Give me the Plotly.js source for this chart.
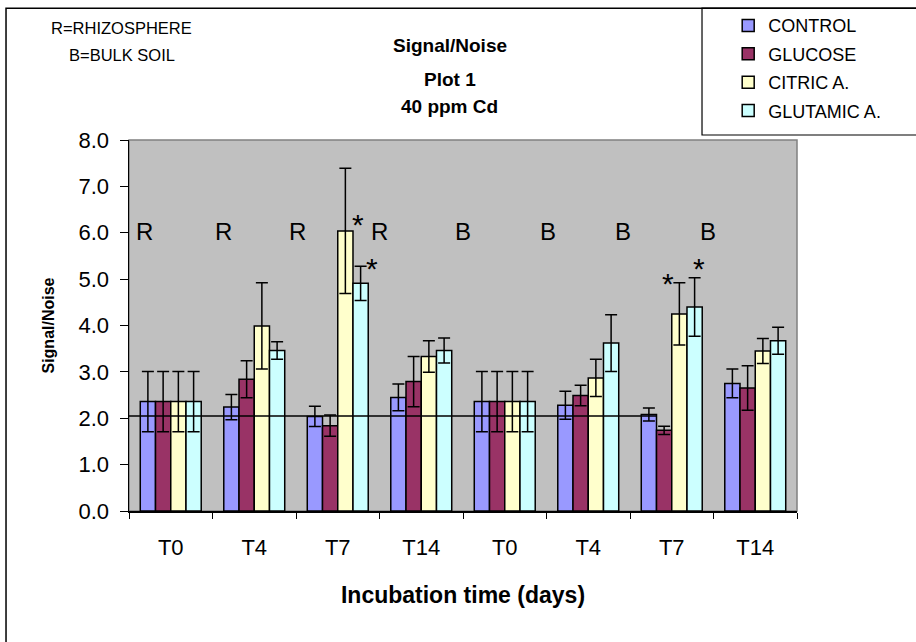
<!DOCTYPE html>
<html>
<head>
<meta charset="utf-8">
<script src="https://cdn.plot.ly/plotly-3.0.1.min.js"></script>
<style>html,body{margin:0;padding:0;background:#fff;}#chart{width:916px;height:642px;}</style>
</head>
<body>
<div id="chart"></div>
<script>
// Categories (R = rhizosphere, B = bulk soil)
const categories = ['R T0','R T4','R T7','R T14','B T0','B T4','B T7','B T14'];
const tickLabels = ['T0','T4','T7','T14','T0','T4','T7','T14'];
const soilLabels = ['R','R','R','R','B','B','B','B'];

// Series values and error bars
const control     = [2.36, 2.24, 2.04, 2.45, 2.36, 2.28, 2.08, 2.75];
const controlErr  = [0.65, 0.27, 0.22, 0.29, 0.65, 0.30, 0.14, 0.31];
const glucose     = [2.36, 2.84, 1.84, 2.79, 2.36, 2.49, 1.74, 2.65];
const glucoseErr  = [0.65, 0.40, 0.23, 0.54, 0.65, 0.22, 0.09, 0.48];
const citric      = [2.36, 3.99, 6.04, 3.33, 2.36, 2.87, 4.25, 3.45];
const citricErr   = [0.65, 0.93, 1.35, 0.34, 0.65, 0.40, 0.67, 0.27];
const glutamic    = [2.36, 3.46, 4.91, 3.46, 2.36, 3.62, 4.40, 3.67];
const glutamicErr = [0.65, 0.19, 0.37, 0.27, 0.65, 0.61, 0.63, 0.29];

const seriesNames = ['CONTROL','GLUCOSE','CITRIC A.','GLUTAMIC A.'];
const seriesColors = ['#9999FF','#993366','#FFFFCC','#CCFFFF'];

// Significance marks (asterisks): category position and height
const starX = [2.24, 2.41, 5.96, 6.33];
const starY = [6.32, 5.38, 5.06, 5.38];

const soilLabelY = 6.02;
const refLevel = 2.05;

const values = [control, glucose, citric, glutamic];
const errs = [controlErr, glucoseErr, citricErr, glutamicErr];

const traces = seriesNames.map((name, i) => ({
  type: 'bar',
  name: name,
  legendgroup: 'g' + i,
  x: categories,
  y: values[i],
  marker: {color: seriesColors[i], line: {color: '#000', width: 1.5}},
  error_y: {type: 'data', array: errs[i], visible: true, color: '#000', thickness: 1.5, width: 6},
  hoverinfo: 'x+y'
}));

const FONT = 'Arial, "Liberation Sans", sans-serif';
const groupFrac = 0.73;
const barW = groupFrac / 4;

const annotations = [];
const soilOffsets = [-0.31, -0.37, -0.48, -0.5, -0.5, -0.48, -0.58, -0.57];
soilLabels.forEach((s, i) => annotations.push({
  x: i + soilOffsets[i], y: soilLabelY, xref: 'x', yref: 'y', text: s, showarrow: false,
  font: {family: FONT, size: 24, color: '#000'}, xanchor: 'center', yanchor: 'middle'
}));
starX.forEach((sx, k) => annotations.push({
  x: sx, y: starY[k], xref: 'x', yref: 'y', text: '*', showarrow: false,
  font: {family: FONT, size: 30, color: '#000'}, xanchor: 'center', yanchor: 'middle', yshift: -7
}));
annotations.push({x: 0.4805, y: 1.163, xref: 'paper', yref: 'paper', text: '<b>Plot 1</b>', showarrow: false,
  font: {family: FONT, size: 19, color: '#000'}, xanchor: 'center', yanchor: 'middle'});
annotations.push({x: 0.4805, y: 1.09, xref: 'paper', yref: 'paper', text: '<b>40 ppm Cd</b>', showarrow: false,
  font: {family: FONT, size: 19, color: '#000'}, xanchor: 'center', yanchor: 'middle'});
annotations.push({x: -0.0105, y: 1.3015, xref: 'paper', yref: 'paper', text: 'R=RHIZOSPHERE', showarrow: false,
  font: {family: FONT, size: 16.5, color: '#000'}, xanchor: 'center', yanchor: 'middle'});
annotations.push({x: -0.0105, y: 1.2288, xref: 'paper', yref: 'paper', text: 'B=BULK SOIL', showarrow: false,
  font: {family: FONT, size: 16.5, color: '#000'}, xanchor: 'center', yanchor: 'middle'});

const refEnd = 6 + (-1.5) * barW + barW / 2;

const shapes = [
  {type: 'rect', xref: 'paper', yref: 'paper', x0: -0.1841, x1: 1.6, y0: -0.6, y1: 1.3553,
   line: {color: '#000', width: 1.5}, fillcolor: 'rgba(0,0,0,0)', layer: 'below'},
  {type: 'rect', xref: 'paper', yref: 'paper', x0: 0.8578, x1: 1.6, y0: 1.0135, y1: 1.3553,
   line: {color: '#000', width: 1.2}, fillcolor: 'rgba(0,0,0,0)', layer: 'below'},
  {type: 'rect', xref: 'paper', yref: 'paper', x0: 0, x1: 1, y0: 0, y1: 1,
   line: {color: '#808080', width: 1.5}, fillcolor: 'rgba(0,0,0,0)', layer: 'below'},
  {type: 'line', xref: 'x', yref: 'y', x0: -0.5, x1: refEnd, y0: refLevel, y1: refLevel,
   line: {color: '#000', width: 1.5}, layer: 'above'}
];

const layout = {
  width: 916, height: 642,
  margin: {l: 129, r: 119, t: 140, b: 131, autoexpand: false},
  paper_bgcolor: '#ffffff',
  plot_bgcolor: '#c0c0c0',
  font: {family: FONT, color: '#000'},
  title: {text: '<b>Signal/Noise</b>', font: {family: FONT, size: 19, color: '#000'},
          x: 450 / 916, xref: 'container', y: 1 - 45 / 642, yref: 'container', xanchor: 'center', yanchor: 'middle'},
  barmode: 'group',
  bargap: 1 - groupFrac,
  bargroupgap: 0,
  showlegend: true,
  legend: {x: 0.897, y: 1.358, xanchor: 'left', yanchor: 'top',
           bgcolor: 'rgba(0,0,0,0)', borderwidth: 0, font: {family: FONT, size: 18, color: '#000'},
           traceorder: 'grouped', tracegroupgap: 2, itemwidth: 30},
  xaxis: {
    type: 'category', categoryorder: 'array', categoryarray: categories,
    tickmode: 'array', tickvals: categories, ticktext: tickLabels,
    tickson: 'boundaries', ticks: 'outside', ticklen: 6, tickcolor: '#000', tickwidth: 1,
    showline: true, linecolor: '#000', linewidth: 1.5, showgrid: false, zeroline: false,
    tickfont: {family: FONT, size: 22, color: '#000'}, ticklabelstandoff: 16,
    title: {text: '<b>Incubation time (days)</b>', font: {family: FONT, size: 23, color: '#000'}, standoff: 28},
    automargin: false, range: [-0.5, 7.5]
  },
  yaxis: {
    range: [0, 8], dtick: 1, tick0: 0, tickformat: '.1f',
    ticks: 'outside', ticklen: 8, tickcolor: '#000', tickwidth: 1,
    showline: true, linecolor: '#000', linewidth: 1.5, showgrid: false, zeroline: false,
    tickfont: {family: FONT, size: 22, color: '#000'}, ticklabelstandoff: 6,
    title: {text: '<b>Signal/Noise</b>', font: {family: FONT, size: 16, color: '#000'}, standoff: 20},
    automargin: false
  },
  annotations: annotations,
  shapes: shapes
};

Plotly.newPlot('chart', traces, layout, {displayModeBar: false, staticPlot: true});
</script>
</body>
</html>
